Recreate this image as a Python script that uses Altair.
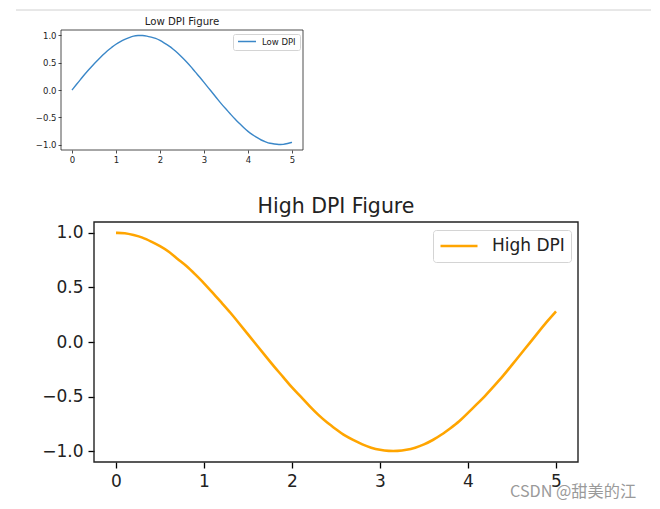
import altair as alt
import pandas as pd

# ---- data ----
x_values = [0.0, 0.1, 0.2, 0.3, 0.4, 0.5, 0.6, 0.7, 0.8, 0.9,
            1.0, 1.1, 1.2, 1.3, 1.4, 1.5, 1.6, 1.7, 1.8, 1.9,
            2.0, 2.1, 2.2, 2.3, 2.4, 2.5, 2.6, 2.7, 2.8, 2.9,
            3.0, 3.1, 3.2, 3.3, 3.4, 3.5, 3.6, 3.7, 3.8, 3.9,
            4.0, 4.1, 4.2, 4.3, 4.4, 4.5, 4.6, 4.7, 4.8, 4.9, 5.0]

low_values = [0.00, 0.10, 0.20, 0.30, 0.39, 0.48, 0.56, 0.64, 0.72, 0.78,
              0.84, 0.89, 0.93, 0.96, 0.99, 1.00, 1.00, 0.99, 0.97, 0.95,
              0.91, 0.86, 0.81, 0.75, 0.68, 0.60, 0.52, 0.43, 0.33, 0.24,
              0.14, 0.04, -0.06, -0.16, -0.26, -0.35, -0.44, -0.53, -0.61, -0.69,
              -0.76, -0.82, -0.87, -0.92, -0.95, -0.98, -0.99, -1.00, -1.00, -0.98, -0.96]

high_values = [1.00, 1.00, 0.98, 0.96, 0.92, 0.88, 0.83, 0.76, 0.70, 0.62,
               0.54, 0.45, 0.36, 0.27, 0.17, 0.07, -0.03, -0.13, -0.23, -0.32,
               -0.42, -0.50, -0.59, -0.67, -0.74, -0.80, -0.86, -0.90, -0.94, -0.97,
               -0.99, -1.00, -1.00, -0.99, -0.97, -0.94, -0.90, -0.85, -0.79, -0.73,
               -0.65, -0.57, -0.49, -0.40, -0.31, -0.21, -0.11, -0.01, 0.09, 0.19, 0.28]

x_ticks = [0, 1, 2, 3, 4, 5]
y_ticks = [-1.0, -0.5, 0.0, 0.5, 1.0]
low_title = "Low DPI Figure"
high_title = "High DPI Figure"
low_label = "Low DPI"
high_label = "High DPI"
watermark = "CSDN @甜美的江"

x_dom = [-0.25, 5.25]
low_y_dom = [-1.1, 1.1]
high_y_dom = [-1.1, 1.1]

FONT = "DejaVu Sans"

low_df = pd.DataFrame({"x": x_values, "y": low_values, "series": low_label})
high_df = pd.DataFrame({"x": x_values, "y": high_values, "series": high_label})
wm_df = pd.DataFrame({"t": [watermark]})
lt_df = pd.DataFrame({"t": [low_title]})
one = pd.DataFrame({"a": [0]})

# ---------------- top (low DPI) panel ----------------
SHIFT = 33  # top plot starts 33px left of the bottom plot
TW = 242 - SHIFT

t_xscale = alt.Scale(domain=x_dom, range=[-SHIFT, TW], nice=False, zero=False)
t_yscale = alt.Scale(domain=low_y_dom, nice=False, zero=False)
t_xaxis = alt.Axis(values=x_ticks, format="d", domain=False, grid=False, title=None,
                   tickSize=3, tickWidth=0.7, tickColor="#000", labelPadding=2,
                   labelFontSize=8.5, labelColor="#222", labelOverlap=False)
t_yaxis = alt.Axis(values=y_ticks, format=".1f", domain=False, grid=False, title=None,
                   offset=SHIFT, tickSize=3, tickWidth=0.7, tickColor="#000",
                   labelPadding=2, labelFontSize=8.5, labelColor="#222",
                   labelOverlap=False)

top_line = alt.Chart(low_df).mark_line(strokeWidth=1.4, interpolate="basis").encode(
    x=alt.X("x:Q", scale=t_xscale, axis=t_xaxis),
    y=alt.Y("y:Q", scale=t_yscale, axis=t_yaxis),
    color=alt.Color("series:N", scale=alt.Scale(domain=[low_label], range=["#3a87c8"]),
                    legend=alt.Legend(title=None, orient="none", legendX=139, legendY=4,
                                      symbolType="stroke", symbolSize=324, symbolStrokeWidth=1.4,
                                      labelFontSize=8.5, labelFont=FONT, labelColor="#222",
                                      labelOffset=5, padding=4, clipHeight=7,
                                      strokeColor="#d4d4d4", cornerRadius=2, fillColor="white"))
)
top_frame = alt.Chart(one).mark_rect(fillOpacity=0, stroke="#222", strokeWidth=0.8).encode(
    x=alt.XDatum(x_dom[0], type="quantitative", scale=t_xscale, axis=t_xaxis),
    x2=alt.datum(x_dom[1]),
    y=alt.YDatum(low_y_dom[0], type="quantitative", scale=t_yscale, axis=t_yaxis),
    y2=alt.datum(low_y_dom[1]))
top_rule = alt.Chart(one).mark_rule(color="#d0d0d0", strokeWidth=1).encode(
    x=alt.value(-78), x2=alt.value(557), y=alt.value(-20))
top_title = alt.Chart(lt_df).mark_text(align="center", baseline="alphabetic", fontSize=10.2,
                                       font=FONT, color="#222").encode(
    x=alt.value((TW - SHIFT) / 2), y=alt.value(-4.7), text="t:N")

top = alt.layer(top_line, top_frame, top_rule, top_title).properties(width=TW, height=120)

# ---------------- bottom (high DPI) panel ----------------
b_xscale = alt.Scale(domain=x_dom, nice=False, zero=False)
b_yscale = alt.Scale(domain=high_y_dom, nice=False, zero=False)
b_xaxis = alt.Axis(values=x_ticks, format="d", domain=False, grid=False, title=None,
                   tickSize=6, tickWidth=1.3, tickColor="#000", labelPadding=5,
                   labelFontSize=17, labelColor="#222", labelOverlap=False)
b_yaxis = alt.Axis(values=y_ticks, format=".1f", domain=False, grid=False, title=None,
                   tickSize=6, tickWidth=1.3, tickColor="#000", labelPadding=5,
                   labelFontSize=17, labelColor="#222", labelOverlap=False)

bot_line = alt.Chart(high_df).mark_line(strokeWidth=2.6, interpolate="basis").encode(
    x=alt.X("x:Q", scale=b_xscale, axis=b_xaxis),
    y=alt.Y("y:Q", scale=b_yscale, axis=b_yaxis),
    color=alt.Color("series:N", scale=alt.Scale(domain=[high_label], range=["#FFA500"]),
                    legend=alt.Legend(title=None, orient="none", legendX=339, legendY=8,
                                      symbolType="stroke", symbolSize=1369, symbolStrokeWidth=2.6,
                                      labelFontSize=17, labelFont=FONT, labelColor="#222",
                                      labelOffset=13, padding=6, clipHeight=20,
                                      strokeColor="#d4d4d4", cornerRadius=3, fillColor="white"))
)
bot_frame = alt.Chart(one).mark_rect(fillOpacity=0, stroke="#222", strokeWidth=1.4).encode(
    x=alt.XDatum(x_dom[0], type="quantitative", scale=b_xscale, axis=b_xaxis),
    x2=alt.datum(x_dom[1]),
    y=alt.YDatum(high_y_dom[0], type="quantitative", scale=b_yscale, axis=b_yaxis),
    y2=alt.datum(high_y_dom[1]))
bot_wm = alt.Chart(wm_df).mark_text(align="left", baseline="alphabetic", fontSize=16.2,
                                    color="#9a9a9a", font="Noto Sans CJK SC").encode(
    x=alt.value(416), y=alt.value(275), text="t:N")

bottom = alt.layer(bot_line, bot_frame, bot_wm).properties(
    width=484, height=240,
    title=alt.TitleParams(high_title, fontSize=20.5, font=FONT, fontWeight="normal", color="#222",
                          frame="group", anchor="middle", offset=4))

chart = alt.vconcat(top, bottom, spacing=32).resolve_scale(
    color="independent", x="independent", y="independent"
).resolve_legend(color="independent").properties(
    padding={"left": 7, "top": 1, "right": 0, "bottom": 0}
).configure_view(stroke=None).configure_axis(labelFont=FONT)

chart.save("out.html", embed_options={"renderer": "svg", "actions": False})
